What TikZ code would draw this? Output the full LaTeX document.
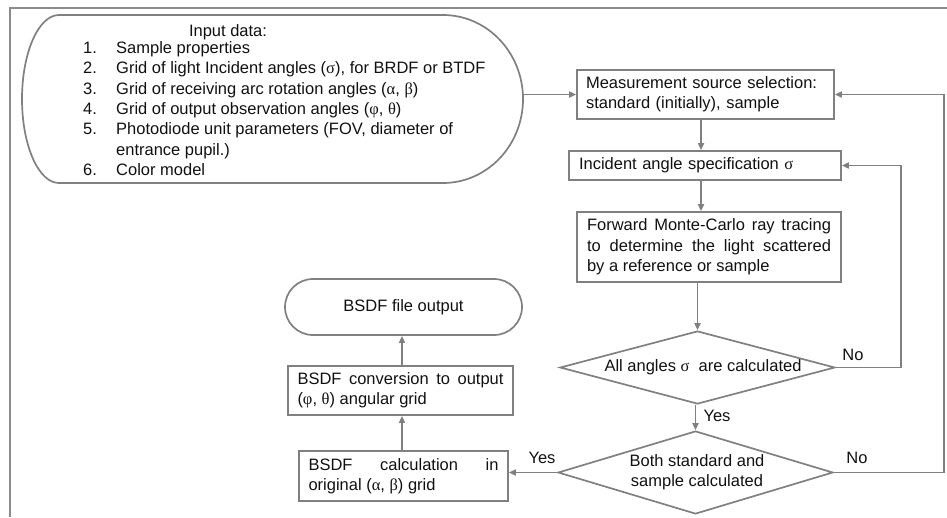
\documentclass[tikz,border=0pt]{standalone}
\usepackage{fontspec}
\setmainfont{Liberation Sans}
\newfontfamily\gkfont{Liberation Serif}
\usetikzlibrary{arrows.meta,shapes.geometric,shapes.misc,calc}
\definecolor{linegray}{HTML}{808080}
\definecolor{framegray}{HTML}{8C8C8C}
\definecolor{inkgray}{HTML}{111111}
\newcommand\gsig{{\gkfont σ}}
\newcommand\galpha{{\gkfont α}}
\newcommand\gbeta{{\gkfont β}}
\newcommand\gphi{{\gkfont φ}}
\newcommand\gtheta{{\gkfont θ}}
\hbadness=10000
\begin{document}
\begin{tikzpicture}[x=1pt,y=1pt,
  every node/.style={font=\fontsize{16.5}{20.3}\selectfont, text=inkgray},
  line/.style={draw=linegray, line width=1.7pt},
  flow/.style={line, -{Triangle[length=7pt,width=6pt]}},
  box/.style={line, rectangle, inner sep=0pt},
  decision/.style={line, diamond, inner sep=0pt, align=center},
  terminal/.style={line, rounded rectangle, inner sep=0pt},
  listno/.style={anchor=base west, inner sep=0pt},
  listtext/.style={anchor=base west, inner sep=0pt}]
\useasboundingbox (0,0) rectangle (947,-517);

% outer frame (top and left edges only)
\draw[draw=framegray, line width=2pt] (10,-517) -- (10,-8) -- (947,-8);

% input data terminal with unequal end curvature
\draw[line] (59,-15) -- (443,-15)
  arc[start angle=90, end angle=-90, x radius=80pt, y radius=84pt]
  -- (59,-183)
  arc[start angle=270, end angle=90, x radius=37pt, y radius=84pt] -- cycle;
\coordinate (inR) at (523,-94.5);

\node (title) at (228,-32) {Input data:};
\node[listno] (n1) at (83,-53) {1.};
\node[listtext] (t1) at (116,-53) {Sample properties};
\node[listno] (n2) at (83,-73.5) {2.};
\node[listtext] (t2) at (116,-73.5) {Grid of light Incident angles (\gsig), for BRDF or BTDF};
\node[listno] (n3) at (83,-94) {3.};
\node[listtext] (t3) at (116,-94) {Grid of receiving arc rotation angles (\galpha, \gbeta)};
\node[listno] (n4) at (83,-114) {4.};
\node[listtext] (t4) at (116,-114) {Grid of output observation angles (\gphi, \gtheta)};
\node[listno] (n5) at (83,-134.5) {5.};
\node[listtext] (t5) at (116,-134.5) {Photodiode unit parameters (FOV, diameter of};
\node[listtext] (t5b) at (116,-155) {entrance pupil.)};
\node[listno] (n6) at (83,-175) {6.};
\node[listtext] (t6) at (116,-175) {Color model};

% main column
\node[box, minimum width=257pt, minimum height=49pt, text width=239pt, align=left]
  (meas) at (705.5,-94.5) {Measurement source selection:\\standard (initially), sample};
\node[box, minimum width=272pt, minimum height=29pt, text width=252pt, align=left]
  (inc) at (705,-165.5) {Incident angle specification \gsig};
\node[box, minimum width=264pt, minimum height=70pt, text width=244pt, align=justify]
  (fwd) at (709,-247) {Forward Monte-Carlo ray tracing\linebreak to determine the light scattered\linebreak by a reference or sample};
\node[decision, aspect=3.77, minimum width=275pt, minimum height=73pt]
  (d1) at (697.5,-367.5) {\hspace*{11pt}All angles \gsig\ \ are calculated};
\node[decision, aspect=3.31, minimum width=275pt, minimum height=83pt]
  (d2) at (695.5,-472.5) {\hspace*{3pt}Both standard and\\\hspace*{3pt}sample calculated};

% output column
\node[box, minimum width=209pt, minimum height=50pt, text width=190pt, align=justify]
  (calc) at (403.5,-476) {BSDF calculation in\linebreak original (\galpha, \gbeta) grid};
\node[box, minimum width=225pt, minimum height=49pt, text width=206pt, align=justify]
  (conv) at (400.5,-390.5) {BSDF conversion to output\linebreak (\gphi, \gtheta) angular grid};
\node[terminal, minimum width=237pt, minimum height=56pt]
  (out) at (403.5,-307) {BSDF file output};

% connectors
\draw[flow] (inR) -- (meas.west);
\draw[flow] (701,0 |- meas.south) -- (701,0 |- inc.north);
\draw[flow] (701,0 |- inc.south) -- (701,0 |- fwd.north);
\draw[flow] (d1.north |- fwd.south) -- (d1.north);
\draw[flow] (d2.north |- d1.south) -- (d2.north);
\draw[flow] (d1.east) -- ++(65,0) |- (inc.east);
\draw[flow] (d2.east) -- ++(110,0) |- (meas.east);
\draw[flow] (d2.west) -- (d2.west -| calc.east);
\draw[flow] (402,0 |- calc.north) -- (402,0 |- conv.south);
\draw[flow] (402,0 |- conv.north) -- (402,0 |- out.south);

% branch labels
\node (no1) at (853,-355) {No};
\node (yes1) at (717,-416) {Yes};
\node (no2) at (857,-458) {No};
\node (yes2) at (542,-458) {Yes};
\end{tikzpicture}
\end{document}
